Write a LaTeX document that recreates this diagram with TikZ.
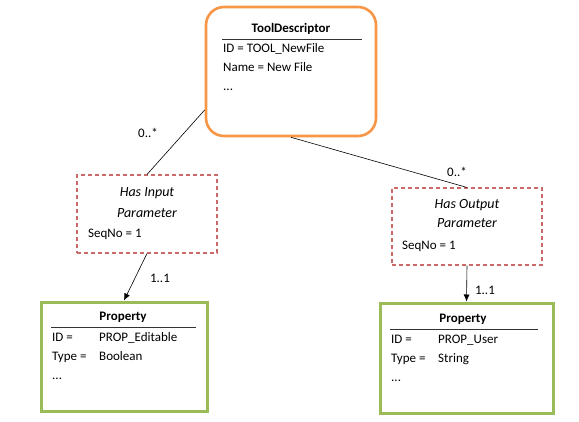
\documentclass[tikz,border=0pt]{standalone}
\usepackage{fontspec}
\setmainfont{Carlito}
\usetikzlibrary{arrows.meta,positioning}
\definecolor{toolorange}{HTML}{F79646}
\definecolor{propgreen}{HTML}{9BBB59}
\definecolor{relred}{HTML}{C0504D}
\tikzset{
  >={Latex[length=7pt,width=6pt]},
  % boxes
  toolbox/.style={draw=toolorange,line width=2.6pt,rounded corners=18pt,
                  minimum width=170pt,minimum height=129pt,inner sep=0pt},
  relbox/.style={draw=relred!85,line width=1.1pt,dash pattern=on 4pt off 3pt,
                 inner sep=0pt},
  propbox/.style={draw=propgreen,line width=3pt,inner sep=0pt},
  % text
  txt/.style={font=\fontsize{13}{15}\selectfont,inner sep=0pt,anchor=base west},
  ttl/.style={font=\fontsize{13}{15}\selectfont\bfseries,inner sep=0pt,anchor=base},
  itl/.style={font=\fontsize{14}{16}\selectfont\itshape,inner sep=0pt,anchor=base},
  mult/.style={font=\fontsize{13}{15}\selectfont,inner sep=0pt},
  link/.style={draw=black,line width=0.6pt},
  rule/.style={draw=black!80,line width=0.9pt},
}
\begin{document}
\begin{tikzpicture}[x=1pt,y=-1pt]
\useasboundingbox (0,0) rectangle (579,421);
  % ToolDescriptor
  \node[toolbox] (td) at (291,71.5) {};
  \node[ttl] (tdt) at (291,32) {ToolDescriptor};
  \draw[rule] (222,39) coordinate (tdl) -- (362,39) coordinate (tdr);
  \node[txt] (tdid) at (223,52) {ID = TOOL\_NewFile};
  \node[txt] (tdname) at (223,71) {Name = New File};
  \node[txt] (tddots) at (223,90) {...};
  % relations
  \node[relbox,minimum width=140pt,minimum height=78pt] (hi) at (147,214) {};
  \node[itl] (hit) at (147,196) {Has Input};
  \node[itl] (hip) at (147,217) {Parameter};
  \node[txt] (hiseq) at (88,237) {SeqNo = 1};
  \node[relbox,minimum width=150pt,minimum height=77pt] (ho) at (467,226.5) {};
  \node[itl] (hot) at (467,208) {Has Output};
  \node[itl] (hop) at (467,227) {Parameter};
  \node[txt] (hoseq) at (402,249) {SeqNo = 1};
  % properties
  \node[propbox,minimum width=166pt,minimum height=109pt] (pi) at (124,356.5) {};
  \node[ttl] (pit) at (123,320) {Property};
  \draw[rule] (51,327) coordinate (pil) -- (196,327) coordinate (pir);
  \node[txt] (piid) at (52,341) {ID =};
  \node[txt] (piidv) at (99,341) {PROP\_Editable};
  \node[txt] (pity) at (52,360) {Type =};
  \node[txt] (pityv) at (99,360) {Boolean};
  \node[txt] (pidots) at (52,379) {...};
  \node[propbox,minimum width=173pt,minimum height=110pt] (po) at (466.5,358) {};
  \node[ttl] (pot) at (463,322) {Property};
  \draw[rule] (390,329) coordinate (pol) -- (538,329) coordinate (por);
  \node[txt] (poid) at (391,343) {ID =};
  \node[txt] (poidv) at (438,343) {PROP\_User};
  \node[txt] (poty) at (391,362) {Type =};
  \node[txt] (potyv) at (438,362) {String};
  \node[txt] (podots) at (391,381) {...};
  % connectors
  \draw[link] (td.204) -- (hi.north);
  \draw[link] (td.south) -- (ho.north);
  \draw[link,->] (hi.south) -- (pi.north);
  \draw[link,->] (ho.south) -- (po.north);
  \node[mult] (m1) at (148,133) {0..*};
  \node[mult] (m2) at (457,172) {0..*};
  \node[mult] (m3) at (160,278) {1..1};
  \node[mult] (m4) at (485,290) {1..1};
\end{tikzpicture}
\end{document}
